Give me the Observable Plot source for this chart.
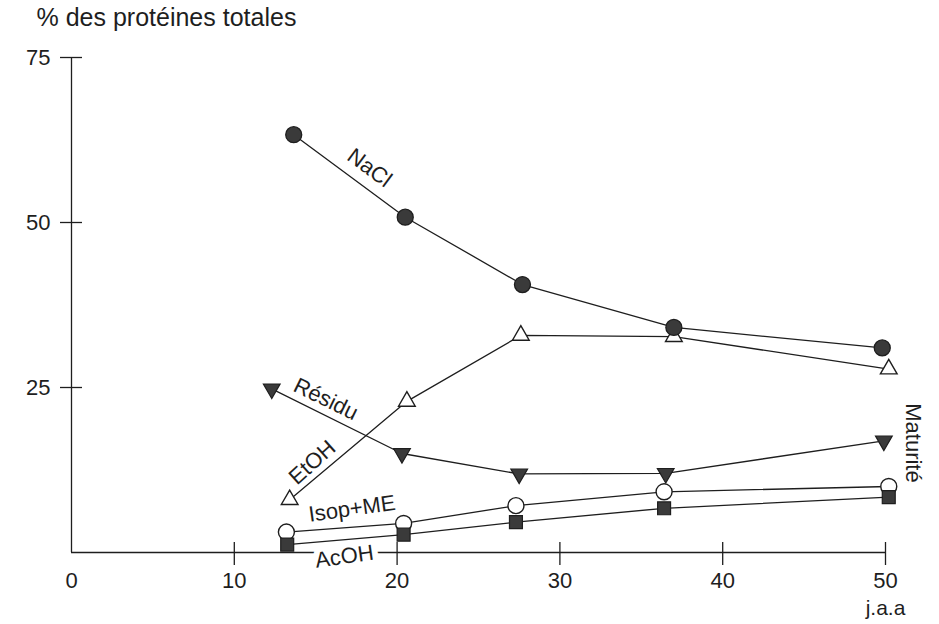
<!DOCTYPE html>
<html>
<head>
<meta charset="utf-8">
<script src="https://cdn.jsdelivr.net/npm/d3@7"></script>
<script src="https://cdn.jsdelivr.net/npm/@observablehq/plot@0.6"></script>
<style>
  html, body { margin: 0; padding: 0; background: #fff; }
  #chart svg { display: block; }
</style>
</head>
<body>
<div id="chart"></div>
<script>
// ---- data ----
const titleText = "% des protéines totales";
const xUnitLabel = "j.a.a";
const stageLabel = "Maturité";

const xTickLabels = [0, 10, 20, 30, 40, 50];
const xTickMarks = [10, 20, 30, 40, 50];
const yTickLabels = [25, 50, 75];

const naclX = [13.65, 20.5, 27.7, 37.0, 49.8];
const naclY = [63.3, 50.8, 40.6, 34.1, 31.0];

const etohX = [13.4, 20.6, 27.6, 37.0, 50.2];
const etohY = [8.0, 22.9, 32.9, 32.7, 27.8];

const residuX = [12.3, 20.3, 27.5, 36.5, 49.9];
const residuY = [24.8, 15.0, 11.9, 12.0, 16.9];

const isopX = [13.2, 20.4, 27.3, 36.4, 50.2];
const isopY = [3.1, 4.4, 7.1, 9.2, 10.0];

const acohX = [13.25, 20.4, 27.3, 36.4, 50.2];
const acohY = [1.2, 2.7, 4.6, 6.7, 8.4];

// ---- build tables ----
const toRows = (name, xs, ys) => xs.map((x, i) => ({series: name, x, y: ys[i]}));
const nacl = toRows("NaCl", naclX, naclY);
const etoh = toRows("EtOH", etohX, etohY);
const residu = toRows("Résidu", residuX, residuY);
const isop = toRows("Isop+ME", isopX, isopY);
const acoh = toRows("AcOH", acohX, acohY);
const all = [...nacl, ...etoh, ...residu, ...isop, ...acoh];

// label anchor: midpoint of the first segment of a series
const mid = (rows, name) => ({
  text: name,
  x: (rows[0].x + rows[1].x) / 2,
  y: (rows[0].y + rows[1].y) / 2
});

const downTriangle = {
  draw(context, size) {
    const y = -Math.sqrt(size / (Math.sqrt(3) * 3));
    context.moveTo(0, -2 * y);
    context.lineTo(Math.sqrt(3) * y, y);
    context.lineTo(-Math.sqrt(3) * y, y);
    context.closePath();
  }
};

const ink = "#1e1e1e";
const fillDark = "#3a3a3a";
const lw = 1.3;

const labelText = (row, opts) => Plot.text([row], {
  x: "x", y: "y", text: "text",
  fill: ink, fontSize: 22, textAnchor: "middle", lineAnchor: "middle",
  ...opts
});

const chart = Plot.plot({
  width: 939,
  height: 624,
  marginLeft: 71,
  marginRight: 54,
  marginTop: 57,
  marginBottom: 72,
  style: {fontFamily: "'Liberation Sans', Arial, sans-serif", fontSize: "22px", color: ink, background: "#fff"},
  x: {domain: [0, 50], axis: null, label: null},
  y: {domain: [0, 75], axis: null, label: null},
  marks: [
    // axis lines
    Plot.ruleY([0], {x1: 0, x2: 50, stroke: ink, strokeWidth: lw}),
    Plot.ruleX([0], {y1: 0, y2: 75, stroke: ink, strokeWidth: lw}),
    // tick marks crossing the axes
    Plot.axisX({ticks: xTickMarks, tickSize: 23, dy: -10, tickFormat: () => "", stroke: ink, strokeWidth: lw, label: null}),
    Plot.axisY({ticks: yTickLabels, tickSize: 22, dx: 11, tickFormat: () => "", stroke: ink, strokeWidth: lw, label: null}),
    // tick labels
    Plot.axisX({ticks: xTickLabels, tickSize: 0, tickPadding: 20, fontSize: 22, fill: ink, label: null}),
    Plot.axisY({ticks: yTickLabels, tickSize: 0, tickPadding: 21, fontSize: 22, fill: ink, label: null}),
    // series labels (AcOH breaks the x axis with a white halo)
    labelText(mid(acoh, "AcOH"), {dx: -1, dy: 17, rotate: -8, stroke: "#fff", strokeWidth: 12}),
    labelText(mid(nacl, "NaCl"), {dx: 20, dy: -8, rotate: 36.5}),
    labelText(mid(residu, "Résidu"), {dx: -11, dy: -22, rotate: 26}),
    labelText(mid(etoh, "EtOH"), {dx: -36, dy: 12, rotate: -42}),
    labelText(mid(isop, "Isop+ME"), {dx: 7, dy: -19, rotate: -8}),
    labelText({text: stageLabel, x: residu[4].x, y: residu[4].y}, {dx: 29, dy: 2, rotate: 90}),
    labelText({text: xUnitLabel, x: 50, y: 0}, {dy: 56, fontSize: 21}),
    // title
    Plot.text([titleText], {frameAnchor: "top-left", dx: -35, dy: -40, textAnchor: "start", lineAnchor: "middle", fontSize: 25, fill: ink}),
    // lines
    Plot.line(all, {x: "x", y: "y", z: "series", stroke: ink, strokeWidth: lw}),
    // markers
    Plot.dot(etoh, {x: "x", y: "y", symbol: "triangle", r: 6.2, fill: "#fff", stroke: ink, strokeWidth: 1.4}),
    Plot.dot(residu, {x: "x", y: "y", symbol: downTriangle, r: 6.2, fill: fillDark, stroke: ink, strokeWidth: 1.2}),
    Plot.dot(nacl, {x: "x", y: "y", symbol: "circle", r: 8, fill: fillDark, stroke: ink, strokeWidth: 1.3}),
    Plot.dot(isop, {x: "x", y: "y", symbol: "circle", r: 8, fill: "#fff", stroke: ink, strokeWidth: 1.4}),
    Plot.dot(acoh, {x: "x", y: "y", symbol: "square", r: 7.3, fill: fillDark, stroke: ink, strokeWidth: 1.2})
  ]
});

document.getElementById("chart").appendChild(chart);
</script>
</body>
</html>
